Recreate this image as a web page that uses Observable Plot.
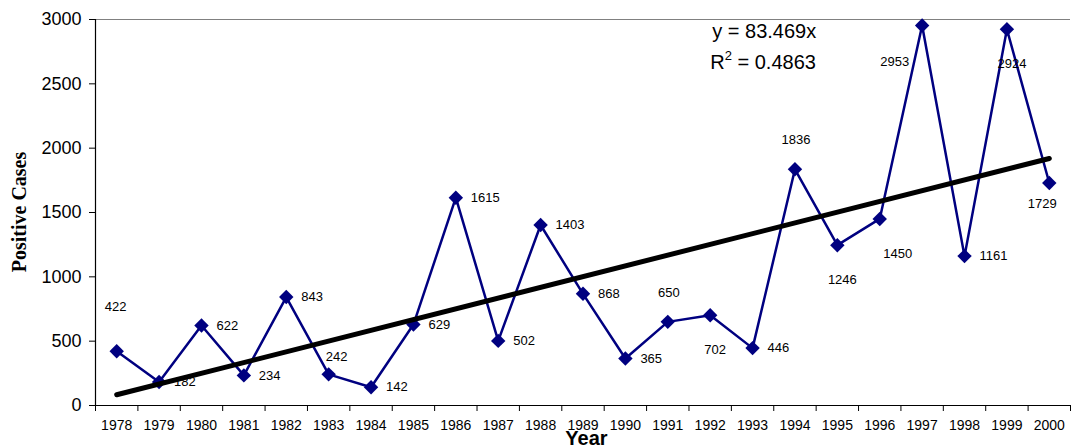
<!DOCTYPE html>
<html><head><meta charset="utf-8">
<script src="https://cdn.jsdelivr.net/npm/d3@7"></script>
<script src="https://cdn.jsdelivr.net/npm/@observablehq/plot@0.6"></script>
<style>
body{margin:0;background:#fff}
#chart{width:1072px;height:447px;overflow:hidden}
</style>
</head><body><div id="chart"></div>
<script>
const years = [1978,1979,1980,1981,1982,1983,1984,1985,1986,1987,1988,1989,1990,1991,1992,1993,1994,1995,1996,1997,1998,1999,2000];
const cases = [422,182,622,234,843,242,142,629,1615,502,1403,868,365,650,702,446,1836,1246,1450,2953,1161,2924,1729];
const labelPos = ["high","right","right","right","right","aboveright","right","right","right","right","right","right","right","above","below","right","above","below","belowright","belowleft","right","below","nearbelow"];
const yTicks = [0,500,1000,1500,2000,2500,3000];
const trendSlope = 83.469;
const rSquared = "0.4863";
const yTitle = "Positive Cases";
const xTitle = "Year";

const data = years.map((y, i) => ({year: y, value: cases[i], pos: labelPos[i]}));
const xDomain = [years[0] - 0.5, years[years.length - 1] + 0.5];
const boundaries = years.map(y => y - 0.5).concat([years[years.length - 1] + 0.5]);
const trend = [
  {year: years[0], value: trendSlope * 1},
  {year: years[years.length - 1], value: trendSlope * years.length}
];
const navy = "#000080";

const labelMark = (pos, opts) => Plot.text(data.filter(d => d.pos === pos), {
  x: "year", y: "value", text: d => String(d.value), fill: "black", fontSize: 13, ...opts
});

const plot = Plot.plot({
  width: 1072, height: 447,
  marginLeft: 95, marginRight: 2, marginTop: 19, marginBottom: 42,
  style: {fontFamily: "'Liberation Sans', Arial, sans-serif", color: "black", background: "white"},
  x: {type: "linear", domain: xDomain},
  y: {domain: [0, 3000]},
  marks: [
    Plot.ruleY([3000], {stroke: "#808080", strokeWidth: 1.2}),
    Plot.ruleY([0], {stroke: "black", strokeWidth: 1.2}),
    Plot.ruleX([xDomain[0]], {stroke: "black", strokeWidth: 1.2}),
    Plot.axisY({ticks: yTicks, tickSize: 6, tickPadding: 8, fontSize: 18, label: null, tickFormat: d => String(d)}),
    Plot.axisX({ticks: years, tickSize: 0, tickPadding: 15, fontSize: 14, label: null, tickFormat: d => String(d)}),
    Plot.axisX({ticks: boundaries, tickSize: 6, label: null, tickFormat: () => ""}),
    Plot.line(data, {x: "year", y: "value", stroke: navy, strokeWidth: 2.5}),
    Plot.dot(data, {x: "year", y: "value", symbol: "diamond2", r: 6.5, fill: navy, stroke: "none"}),
    Plot.line(trend, {x: "year", y: "value", stroke: "black", strokeWidth: 5, strokeLinecap: "round"}),
    labelMark("right", {textAnchor: "start", dx: 15, dy: 0}),
    labelMark("above", {textAnchor: "middle", dx: 1, dy: -29}),
    labelMark("high", {textAnchor: "middle", dx: -1, dy: -44}),
    labelMark("aboveright", {textAnchor: "middle", dx: 8, dy: -18}),
    labelMark("below", {textAnchor: "middle", dx: 5, dy: 35}),
    labelMark("nearbelow", {textAnchor: "middle", dx: -7, dy: 21}),
    labelMark("belowright", {textAnchor: "middle", dx: 18, dy: 35}),
    labelMark("belowleft", {textAnchor: "end", dx: -13, dy: 36})
  ]
});
document.getElementById("chart").appendChild(plot);

const svg = d3.select(plot);
const xs = plot.scale("x"), ys = plot.scale("y");
const x0 = xs.apply(xDomain[0]), x1 = xs.apply(xDomain[1]);
const yTop = ys.apply(3000), yBot = ys.apply(0);

svg.append("text")
  .attr("x", (x0 + x1) / 2 + 4).attr("y", 445)
  .attr("text-anchor", "middle")
  .attr("font-family", "'Liberation Sans', Arial, sans-serif")
  .attr("font-weight", "bold").attr("font-size", 20).attr("fill", "black")
  .text(xTitle);

svg.append("text")
  .attr("transform", `translate(26,${(yTop + yBot) / 2}) rotate(-90)`)
  .attr("text-anchor", "middle")
  .attr("font-family", "'Liberation Serif', 'Times New Roman', serif")
  .attr("font-weight", "bold").attr("font-size", 20).attr("fill", "black")
  .text(yTitle);

const eqX = x0 + (x1 - x0) * 0.631;
svg.append("text")
  .attr("x", eqX + 2).attr("y", yTop + 19)
  .attr("text-anchor", "start")
  .attr("font-family", "'Liberation Sans', Arial, sans-serif")
  .attr("font-size", 20).attr("fill", "black")
  .text(`y = ${trendSlope}x`);
const r2 = svg.append("text")
  .attr("x", eqX).attr("y", yTop + 50)
  .attr("text-anchor", "start")
  .attr("font-family", "'Liberation Sans', Arial, sans-serif")
  .attr("font-size", 20).attr("fill", "black");
r2.append("tspan").text("R");
r2.append("tspan").attr("font-size", 13).attr("dy", -9).text("2");
r2.append("tspan").attr("dy", 9).text(` = ${rSquared}`);
</script>
</body></html>
